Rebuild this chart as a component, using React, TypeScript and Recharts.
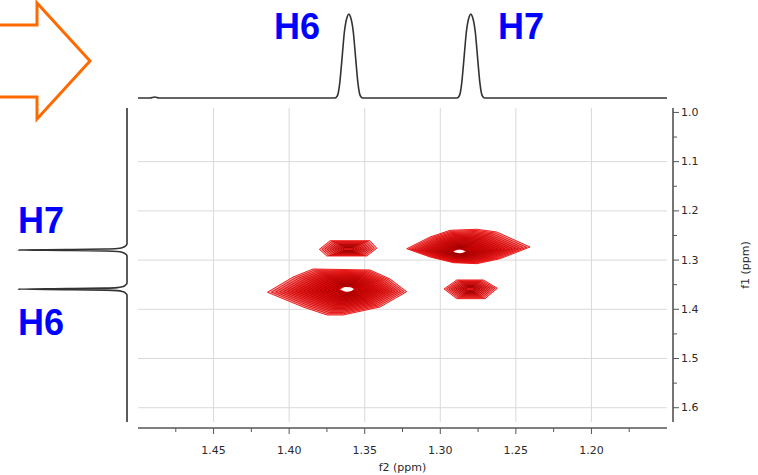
import React from 'react'
import { ScatterChart, Scatter, XAxis, YAxis, CartesianGrid } from 'recharts'

// axis ranges (ppm)
const f2Domain: [number, number] = [1.15, 1.5]
const f1Domain: [number, number] = [0.991, 1.629]

const f2MajorTicks = [1.45, 1.4, 1.35, 1.3, 1.25, 1.2]
const f2MinorTicks = [1.475, 1.425, 1.375, 1.325, 1.275, 1.225, 1.175]
const f1MajorTicks = [1.0, 1.1, 1.2, 1.3, 1.4, 1.5, 1.6]
const f1MinorTicks = [1.05, 1.15, 1.25, 1.35, 1.45, 1.55]

// 1D projection on top (f2): [ppm, relative intensity]
const topTrace: [number, number][] = [
    [1.5, 0], [1.492, 0], [1.489, 0.012], [1.486, 0], [1.372, 0],
    [1.3698, 0], [1.3685, 0.015], [1.3675, 0.06], [1.3665, 0.18], [1.3655, 0.37],
    [1.3645, 0.58], [1.3635, 0.78], [1.3625, 0.9], [1.3615, 0.97], [1.3605, 1],
    [1.3595, 0.97], [1.3585, 0.9], [1.3575, 0.78], [1.3565, 0.58], [1.3555, 0.37],
    [1.3545, 0.18], [1.3535, 0.06], [1.3525, 0.015], [1.3512, 0],
    [1.29, 0],
    [1.2891, 0], [1.2878, 0.015], [1.2868, 0.06], [1.2858, 0.18], [1.2848, 0.37],
    [1.2838, 0.58], [1.2828, 0.78], [1.2818, 0.9], [1.2808, 0.97], [1.2798, 1],
    [1.2788, 0.97], [1.2778, 0.9], [1.2768, 0.78], [1.2758, 0.58], [1.2748, 0.37],
    [1.2738, 0.18], [1.2728, 0.06], [1.2718, 0.015], [1.2705, 0],
    [1.15, 0],
]

// 1D projection on the left (f1): [ppm, relative intensity]
const leftTrace: [number, number][] = [
    [0.991, 0], [1.2675, 0], [1.2715, 0.015], [1.2745, 0.04], [1.2765, 0.09],
    [1.2775, 0.2], [1.2785, 0.55], [1.2795, 1], [1.2805, 0.55], [1.2815, 0.2],
    [1.2825, 0.09], [1.2845, 0.04], [1.2875, 0.015], [1.2915, 0],
    [1.347, 0], [1.351, 0.015], [1.354, 0.04], [1.356, 0.09], [1.357, 0.2],
    [1.358, 0.55], [1.359, 1], [1.36, 0.55], [1.361, 0.2], [1.362, 0.09],
    [1.364, 0.04], [1.367, 0.015], [1.371, 0], [1.629, 0],
]

// cross peaks: centre first, then outer contour vertices [f2, f1]
const peakH6H6: [number, number][] = [
    [1.361, 1.359],
    [1.4144, 1.3654], [1.3974, 1.3344], [1.3842, 1.3181], [1.3465, 1.3201],
    [1.3332, 1.3384], [1.3222, 1.3642], [1.3398, 1.3953], [1.3643, 1.4116],
    [1.3749, 1.4116], [1.3908, 1.3953],
]
const peakH7H7: [number, number][] = [
    [1.288, 1.2836],
    [1.3222, 1.2769], [1.3068, 1.2531], [1.2935, 1.2395], [1.2758, 1.2374],
    [1.2626, 1.2429], [1.2406, 1.2734], [1.2604, 1.2972], [1.2758, 1.3073],
    [1.2913, 1.3053], [1.3068, 1.2937],
]
const peakH6H7: [number, number][] = [
    [1.3608, 1.2781],
    [1.38, 1.2781], [1.3729, 1.2606], [1.3465, 1.2606], [1.342, 1.276],
    [1.3486, 1.2917], [1.3751, 1.2917],
]
const peakH7H6: [number, number][] = [
    [1.2803, 1.3587],
    [1.2975, 1.3587], [1.2891, 1.3404], [1.2715, 1.3404], [1.2622, 1.3573],
    [1.2704, 1.3784], [1.2891, 1.3784],
]

const peaks = [
    { id: 'h6h6', pts: peakH6H6, levels: 18, hole: true },
    { id: 'h7h7', pts: peakH7H7, levels: 18, hole: true },
    { id: 'h6h7', pts: peakH6H7, levels: 10, hole: false },
    { id: 'h7h6', pts: peakH7H6, levels: 10, hole: false },
]

const toXY = (arr: [number, number][]) => arr.map(([x, y]) => ({ x, y }))
const noDot = () => <g />

const tickFont = { fontFamily: 'DejaVu Sans, sans-serif', fontSize: 11, fill: '#2a2a2a' }

// contour colour from outer (bright red) to inner (dark red)
const ringColour = (k: number, n: number) => {
    const f = k / Math.max(1, n - 1)
    const r = Math.round(238 - 90 * f)
    return `rgb(${r},${Math.round(12 - 12 * f)},${Math.round(12 - 12 * f)})`
}

function ContourRings(props: any) {
    const { points, levels = 12, hole = false } = props
    if (!points || points.length < 4) return null
    const [c, ...rim] = points
    const ring = (t: number) =>
        rim.map((p: any, i: number) =>
            `${i ? 'L' : 'M'}${(c.x + (p.x - c.x) * t).toFixed(2)},${(c.y + (p.y - c.y) * t).toFixed(2)}`
        ).join('') + 'Z'
    const paths = []
    for (let k = 0; k < levels; k++) {
        const t = 1 - (k / levels) * 0.9
        paths.push(
            <path key={k} d={ring(t)} fill="#e00000" fillOpacity={k === 0 ? 0.35 : 0.2}
                stroke={ringColour(k, levels)} strokeWidth={0.9} strokeLinejoin="round" />
        )
    }
    return (
        <g>
            {paths}
            {hole && <path d={ring(0.1)} fill="#fff" />}
        </g>
    )
}

function F1Tick(props: any) {
    const { x, y, payload } = props
    const major = f1MajorTicks.includes(payload.value)
    return (
        <g>
            <line x1={x} x2={x + (major ? 6 : 4)} y1={y} y2={y} stroke="#555" />
            {major && (
                <text x={x + 8} y={y} dominantBaseline="central" {...tickFont}>
                    {payload.value.toFixed(1)}
                </text>
            )}
        </g>
    )
}

function F2Tick(props: any) {
    const { x, y, payload } = props
    const major = f2MajorTicks.includes(payload.value)
    return (
        <g>
            <line x1={x} x2={x} y1={y} y2={y + (major ? 6 : 4)} stroke="#555" />
            {major && (
                <text x={x} y={y + 22} textAnchor="middle" dominantBaseline="central" {...tickFont}>
                    {payload.value.toFixed(2)}
                </text>
            )}
        </g>
    )
}

const f2Title = (p: any) => {
    const vb = p.viewBox
    return (
        <text x={vb.x + vb.width / 2} y={vb.y + 39} textAnchor="middle" dominantBaseline="central" {...tickFont}>
            f2 (ppm)
        </text>
    )
}

const f1Title = (p: any) => {
    const vb = p.viewBox
    const x = vb.x + 72
    const y = vb.y + vb.height / 2
    return (
        <text x={x} y={y} textAnchor="middle" dominantBaseline="central"
            transform={`rotate(-90, ${x}, ${y})`} {...tickFont}>
            f1 (ppm)
        </text>
    )
}

const abs = (left: number, top: number): React.CSSProperties => ({ position: 'absolute', left, top })

export default function App() {
    return (
        <div style={{ position: 'absolute', left: 0, top: 0, width: 758, height: 475, background: '#fff', overflow: 'hidden' }}>
            {/* top projection */}
            <div style={abs(130, 4)}>
                <ScatterChart width={545} height={98} margin={{ top: 10, right: 8, bottom: 4, left: 8 }}>
                    <XAxis type="number" dataKey="x" domain={f2Domain} reversed hide />
                    <YAxis type="number" dataKey="y" domain={[0, 1]} hide />
                    <Scatter data={toXY(topTrace)} shape={noDot} line={{ stroke: '#333', strokeWidth: 1.6 }}
                        lineJointType="monotoneX" isAnimationActive={false} />
                </ScatterChart>
            </div>

            {/* left projection */}
            <div style={abs(10, 100)}>
                <ScatterChart width={125} height={330} margin={{ top: 8, right: 8, bottom: 8, left: 8 }}>
                    <XAxis type="number" dataKey="x" domain={[0, 1]} reversed hide />
                    <YAxis type="number" dataKey="y" domain={f1Domain} reversed hide />
                    <Scatter data={leftTrace.map(([y, x]) => ({ x, y }))} shape={noDot}
                        line={{ stroke: '#333', strokeWidth: 1.6 }} lineJointType="monotoneY" isAnimationActive={false} />
                </ScatterChart>
            </div>

            {/* f1 axis (right, offset from the plot) */}
            <div style={abs(0, 0)}>
                <ScatterChart width={758} height={475} margin={{ top: 108, right: 0, bottom: 53, left: 0 }}>
                    <XAxis type="number" dataKey="x" domain={f2Domain} hide />
                    <YAxis type="number" dataKey="y" orientation="right" width={85} domain={f1Domain} reversed
                        ticks={[...f1MajorTicks, ...f1MinorTicks].sort((a, b) => a - b)} interval={0}
                        tickSize={0} tickMargin={0} tickLine={false} tick={(p: any) => <F1Tick {...p} />}
                        axisLine={{ stroke: '#666', strokeWidth: 1.8 }} label={f1Title} allowDataOverflow />
                </ScatterChart>
            </div>

            {/* f2 axis (bottom, offset from the plot) */}
            <div style={abs(0, 0)}>
                <ScatterChart width={758} height={475} margin={{ top: 0, right: 91, bottom: 0, left: 138 }}>
                    <XAxis type="number" dataKey="x" domain={f2Domain} reversed height={47}
                        ticks={[...f2MajorTicks, ...f2MinorTicks].sort((a, b) => b - a)} interval={0}
                        tickSize={0} tickMargin={0} tickLine={false} tick={(p: any) => <F2Tick {...p} />}
                        axisLine={{ stroke: '#555', strokeWidth: 1.4 }} label={f2Title} allowDataOverflow />
                    <YAxis type="number" dataKey="y" domain={[0, 1]} hide />
                </ScatterChart>
            </div>

            {/* 2D contour plot */}
            <div style={abs(138, 108)}>
                <ScatterChart width={529} height={314} margin={{ top: 0, right: 0, bottom: 0, left: 0 }}>
                    <CartesianGrid stroke="#d9d9d9" verticalValues={f2MajorTicks} horizontalValues={f1MajorTicks} />
                    <XAxis type="number" dataKey="x" domain={f2Domain} reversed hide allowDataOverflow />
                    <YAxis type="number" dataKey="y" domain={f1Domain} reversed hide allowDataOverflow />
                    {peaks.map(p => (
                        <Scatter key={p.id} data={toXY(p.pts)} shape={noDot}
                            line={<ContourRings levels={p.levels} hole={p.hole} />} isAnimationActive={false} />
                    ))}
                </ScatterChart>
            </div>

            {/* annotations */}
            <svg width={758} height={475} style={{ position: 'absolute', left: 0, top: 0, pointerEvents: 'none' }}>
                <polygon points="-5,25 37,25 37,3 90,61 37,119 37,97 -5,97" fill="none" stroke="#ff6a00" strokeWidth={3} />
                <g fontFamily="Liberation Sans, Arial, sans-serif" fontWeight="bold" fontSize={36} fill="#0000ff">
                    <text x={274} y={39}>H6</text>
                    <text x={498} y={39}>H7</text>
                    <text x={18} y={233}>H7</text>
                    <text x={18} y={335}>H6</text>
                </g>
            </svg>
        </div>
    )
}
